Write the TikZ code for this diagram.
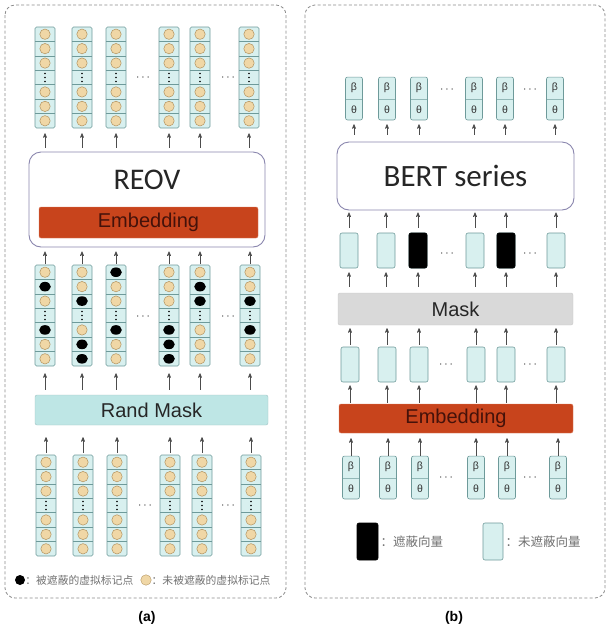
\documentclass[tikz,border=0pt]{standalone}
\usepackage{fontspec}
\setmainfont{Carlito}
\newfontfamily\arialf{Liberation Sans}
\newfontfamily\cjk{Noto Sans CJK SC}
\usetikzlibrary{arrows,positioning,shapes.multipart}

\definecolor{cellfill}{HTML}{D8F0EF}
\definecolor{cellline}{HTML}{6E9A9A}
\definecolor{beadfill}{HTML}{F0D7A6}
\definecolor{beadline}{HTML}{B39360}
\definecolor{embfill}{HTML}{C8441C}
\definecolor{embtext}{HTML}{45120A}
\definecolor{randfill}{HTML}{BEE6E5}
\definecolor{maskfill}{HTML}{D9D9D9}
\definecolor{panelline}{HTML}{8C8C8C}
\definecolor{boxline}{HTML}{8A86AE}
\definecolor{legtext}{HTML}{707070}

\tikzset{
  panel/.style={draw=panelline, dash pattern=on 3pt off 2.2pt, line width=0.8pt, rounded corners=10pt},
  colbox/.style={draw=cellline, fill=cellfill, rounded corners=1.5pt, minimum width=20pt, minimum height=101pt, inner sep=0pt, line width=0.6pt},
  vecbox/.style={draw=cellline, fill=cellfill, rounded corners=2pt, minimum width=18pt, minimum height=35pt, inner sep=0pt, line width=0.6pt},
  maskedbox/.style={vecbox, draw=black, fill=black},
  btcol/.style={rectangle split, rectangle split parts=2, draw=cellline, fill=cellfill, rounded corners=2pt, minimum width=17pt, inner xsep=0pt, inner ysep=6pt, text height=7.5pt, text depth=2.5pt, font=\arialf\fontsize{10.5}{12}\selectfont, text=black!80, line width=0.6pt},
  bigbox/.style={draw=boxline, fill=white, rounded corners=12pt, line width=0.9pt, inner sep=0pt},
  bar/.style={rounded corners=2pt, inner sep=0pt, font=\arialf\fontsize{20}{24}\selectfont},
  embbar/.style={bar, fill=embfill, draw=embfill!70!white, text=embtext},
  randbar/.style={bar, fill=randfill, draw=randfill!85!black, text=black!85},
  maskbar/.style={bar, fill=maskfill, draw=maskfill!92!black, text=black!85},
  up/.style={->, draw=black!70, line width=0.65pt},
  ellip/.style={inner sep=0pt, text=black!80, font=\fontsize{13}{15}\selectfont},
  legtxt/.style={inner sep=0pt, text=legtext, font=\cjk\fontsize{10.8}{13}\selectfont},
}

% one column of seven token cells: name, x, top y, cells (o, x, d)
\newcommand{\tokcol}[4]{%
  \node[colbox] (#1) at (#2,#3+50.5) {};
  \foreach \k in {1,...,6}
    \draw[cellline, line width=0.5pt] (#2-10,#3+\k*14.43) -- (#2+10,#3+\k*14.43);
  \foreach \tk [count=\ci] in {#4} {
    \pgfmathsetmacro\cy{#3+(\ci-0.5)*14.43}
    \if o\tk \draw[draw=beadline, fill=beadfill, line width=0.5pt] (#2,\cy) circle (5.2pt); \fi
    \if x\tk \fill[black] (#2,\cy) ellipse (5.8pt and 4.8pt); \fi
    \if d\tk \foreach \dy in {-4,0,4} \fill[black] (#2,\cy+\dy) circle (0.9pt); \fi
  }%
}

\begin{document}
\begin{tikzpicture}[x=1pt, y=-1pt, >=stealth']
\useasboundingbox (0,0) rectangle (608,633);

\draw[panel] (5,5) rectangle (286,598);
\draw[panel] (305,5) rectangle (605,598);

% (a) REOV
\foreach \x [count=\n] in {45,82,116,169,200,249} {\tokcol{t\n}{\x}{27}{o,o,o,d,o,o,o}}

\node[bigbox, minimum width=236pt, minimum height=95pt] (reov) at (147,199.5) {};
\node[font=\fontsize{30}{36}\selectfont, text=black!85] (reovlabel) at (147,180) {REOV};
\node[embbar, minimum width=219pt, minimum height=31pt] (emb1) at (148.5,222.5) {Embedding};

\tokcol{m1}{45}{265}{o,x,o,d,x,o,o}
\tokcol{m2}{82}{265}{o,o,x,d,o,x,x}
\tokcol{m3}{116}{265}{x,o,o,d,x,o,o}
\tokcol{m4}{169}{265}{o,o,o,d,x,x,x}
\tokcol{m5}{200}{265}{o,x,x,d,o,o,o}
\tokcol{m6}{250}{265}{o,o,x,d,x,o,o}

\node[randbar, minimum width=233pt, minimum height=30pt] (rand) at (151.5,410) {Rand Mask};

\foreach \x [count=\n] in {46,83,117,170,202,251} {\tokcol{b\n}{\x}{455}{o,o,o,d,o,o,o}}

\node[ellip] (da1) at (143,78) {$\cdots$};
\node[ellip] (da2) at (228,78) {$\cdots$};
\node[ellip] (da3) at (143,317) {$\cdots$};
\node[ellip] (da4) at (228,317) {$\cdots$};
\node[ellip] (da5) at (145,506) {$\cdots$};
\node[ellip] (da6) at (228,506) {$\cdots$};

\foreach \n in {1,...,6} {
  \draw[up, shorten <=4pt, shorten >=5pt] (reov.north -| t\n) -- (t\n.south);
  \draw[up, shorten <=1pt, shorten >=4pt] (m\n.north) -- (reov.south -| m\n);
  \draw[up, shorten <=5pt, shorten >=7pt] (rand.north -| m\n) -- (m\n.south);
  \draw[up, shorten <=2pt, shorten >=12pt] (b\n.north) -- (rand.south -| b\n);
}

\node[circle, fill=black, inner sep=0pt, minimum size=10pt] (lx) at (20,580) {};
\node[legtxt, right=0pt of lx] (lxt) {：被遮蔽的虚拟标记点};
\node[circle, draw=beadline, fill=beadfill, inner sep=0pt, minimum size=10.5pt] (lo) at (146,580) {};
\node[legtxt, right=0pt of lo] (lot) {：未被遮蔽的虚拟标记点};

\node[font=\arialf\bfseries\fontsize{14}{16}\selectfont] (capa) at (147,618) {(a)};

% (b) BERT series
\foreach \x [count=\n] in {354,387,419,474,505,555} {\node[btcol] (o\n) at (\x,98.5) {β\nodepart{two}θ};}

\node[bigbox, minimum width=237pt, minimum height=68pt, font=\fontsize{31}{36}\selectfont, text=black!85] (bert) at (455.5,176) {BERT series};

\foreach \x [count=\n] in {349,386,418,475,506,556} {\node[vecbox] (mv\n) at (\x,250.5) {};}
\node[maskedbox] at (mv3) {};
\node[maskedbox] at (mv5) {};

\node[maskbar, minimum width=235pt, minimum height=32pt] (mask) at (455.5,309) {Mask};

\foreach \x [count=\n] in {350,387,419,476,506,556} {\node[vecbox] (ev\n) at (\x,364.5) {};}

\node[embbar, minimum width=234pt, minimum height=29pt] (emb2) at (456,418.5) {Embedding};

\foreach \x [count=\n] in {351,388,420,476,507,558} {\node[btcol] (in\n) at (\x,477.5) {β\nodepart{two}θ};}

\node[ellip] (db1) at (447,90) {$\cdots$};
\node[ellip] (db2) at (530,90) {$\cdots$};
\node[ellip] (db3) at (447,254) {$\cdots$};
\node[ellip] (db4) at (530,254) {$\cdots$};
\node[ellip] (db5) at (446,365) {$\cdots$};
\node[ellip] (db6) at (530,365) {$\cdots$};
\node[ellip] (db7) at (446,478) {$\cdots$};
\node[ellip] (db8) at (530,478) {$\cdots$};

\foreach \n in {1,...,6} {
  \draw[up, shorten <=7pt, shorten >=4pt] (bert.north -| o\n) -- (o\n.south);
  \draw[up, shorten <=5pt, shorten >=2pt] (mv\n.north) -- (bert.south -| mv\n);
  \draw[up, shorten <=6pt, shorten >=4pt] (mask.north -| mv\n) -- (mv\n.south);
  \draw[up, shorten <=2pt, shorten >=3pt] (ev\n.north) -- (mask.south -| ev\n);
  \draw[up, shorten <=1pt, shorten >=3pt] (emb2.north -| ev\n) -- (ev\n.south);
  \draw[up, shorten <=0pt, shorten >=5pt] (in\n.north) -- (emb2.south -| in\n);
}

\node[maskedbox, minimum width=21pt, minimum height=37pt] (kx) at (367.5,541.5) {};
\node[legtxt, font=\cjk\fontsize{12.5}{15}\selectfont, right=2pt of kx] (kxt) {：遮蔽向量};
\node[vecbox, minimum width=20pt, minimum height=37pt] (ko) at (493,541.5) {};
\node[legtxt, font=\cjk\fontsize{12.5}{15}\selectfont, right=2pt of ko] (kot) {：未遮蔽向量};

\node[font=\arialf\bfseries\fontsize{14}{16}\selectfont] (capb) at (454,618) {(b)};
\end{tikzpicture}
\end{document}
